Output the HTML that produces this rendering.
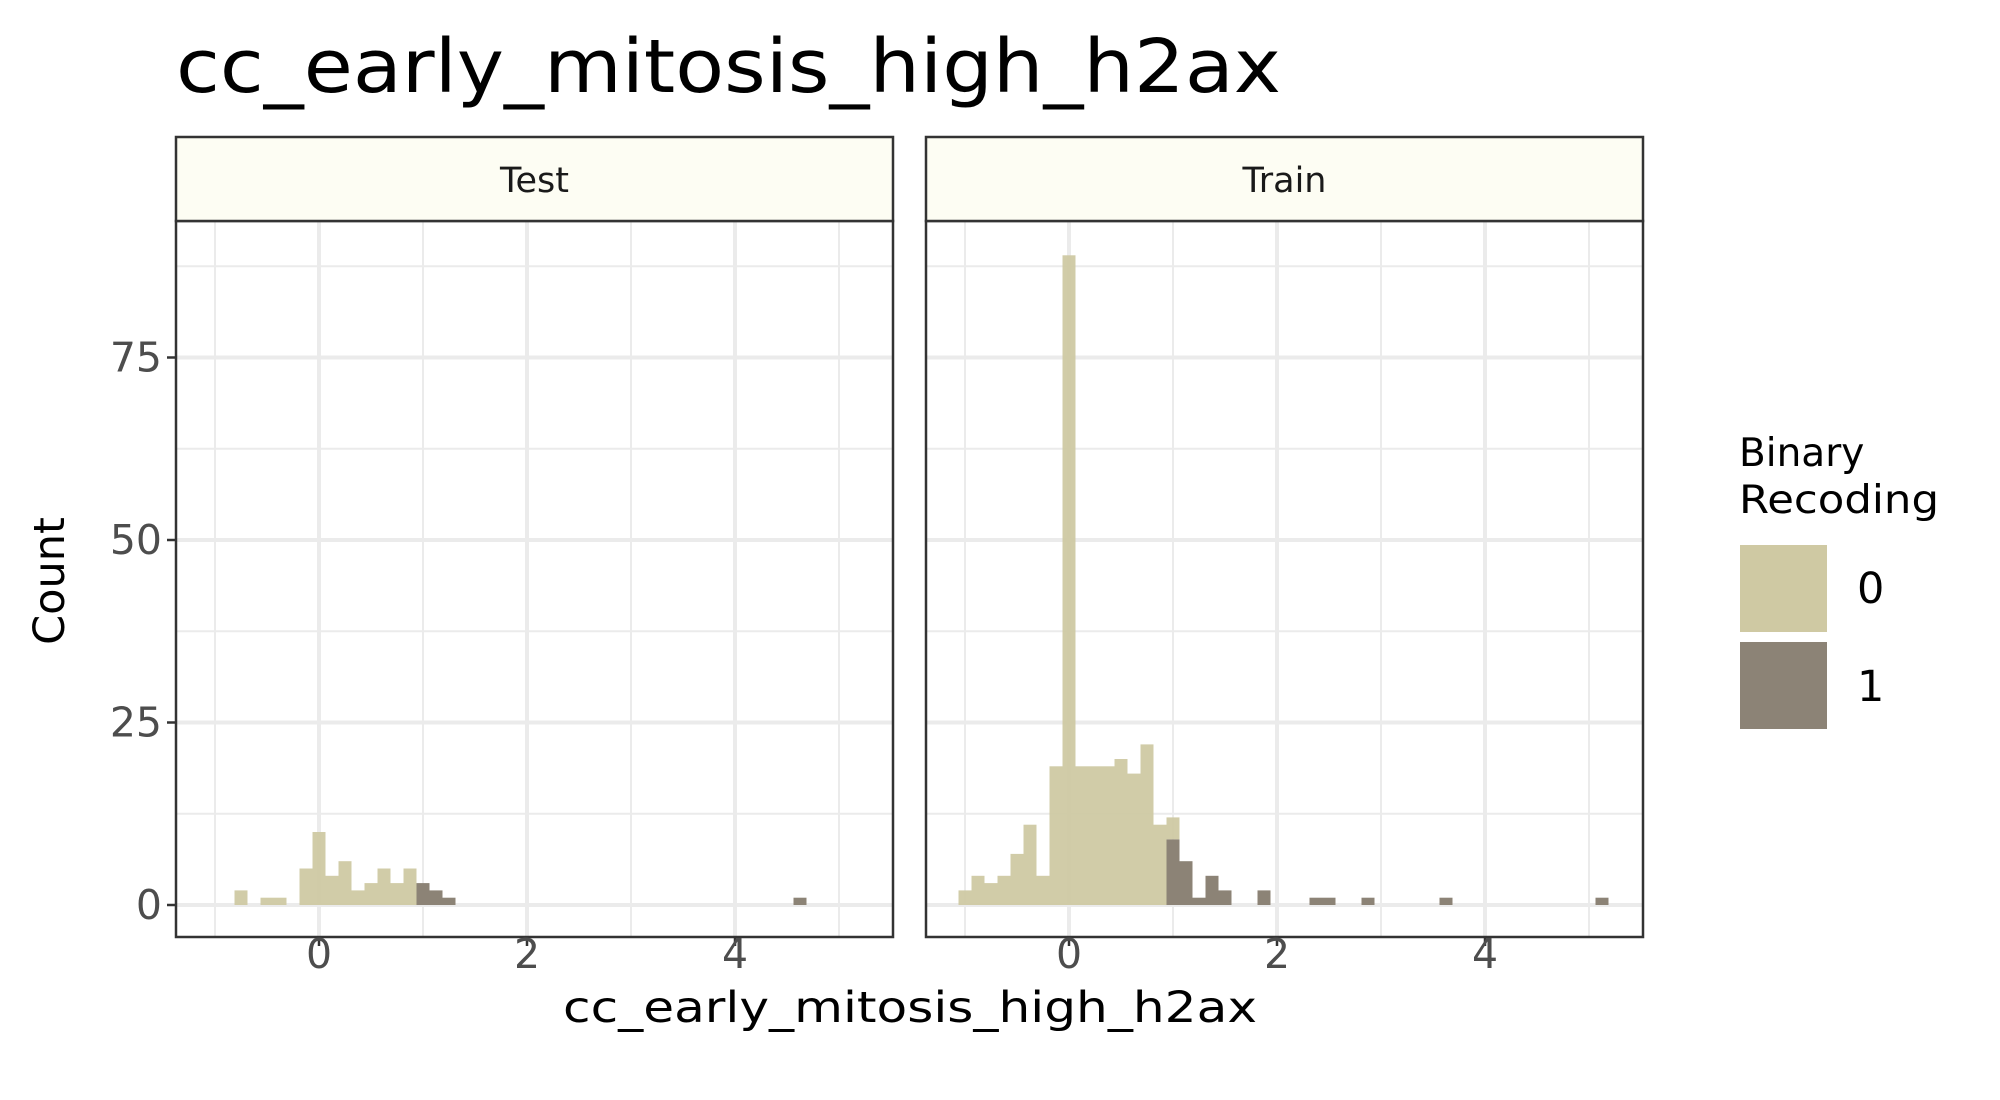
<!DOCTYPE html>
<html><head><meta charset="utf-8"><style>
html,body{margin:0;padding:0;background:#fff;}
svg{display:block;font-family:"DejaVu Sans","Liberation Sans",sans-serif;}
</style></head><body>
<svg id="chart" width="2000" height="1100" viewBox="0 0 2000 1100">
<text x="176" y="92" font-size="74" fill="#000" textLength="1105" lengthAdjust="spacingAndGlyphs">cc_early_mitosis_high_h2ax</text>
<g id="panels"></g>
<text x="910" y="1022" font-size="43" fill="#000" text-anchor="middle" textLength="694" lengthAdjust="spacingAndGlyphs">cc_early_mitosis_high_h2ax</text>
<text x="0" y="0" font-size="43" fill="#000" text-anchor="middle" transform="translate(64,581) rotate(-90)">Count</text>
<g>
<text x="1739" y="466" font-size="39" fill="#000">Binary</text>
<text x="1739" y="513" font-size="39" fill="#000" textLength="200" lengthAdjust="spacingAndGlyphs">Recoding</text>
<rect x="1740" y="545" width="87" height="87" fill="#cfc9a3"/>
<rect x="1740" y="642" width="87" height="87" fill="#8c8376"/>
<text x="1857" y="603" font-size="43" fill="#000">0</text>
<text x="1857" y="701" font-size="43" fill="#000">1</text>
</g>
</svg>
<script>
// bin index k -> bin centre k*binWidth
const binWidth = 0.125;
const facets = ["Test", "Train"];
const testBins0 = [-6,-4,-3,-1,0,1,2,3,4,5,6,7];
const testCounts0 = [2,1,1,5,10,4,6,2,3,5,3,5];
const testBins1 = [8,9,10,37];
const testCounts1 = [3,2,1,1];
const trainBins0 = [-8,-7,-6,-5,-4,-3,-2,-1,0,1,2,3,4,5,6,7,8];
const trainCounts0 = [2,4,3,4,7,11,4,19,89,19,19,19,20,18,22,11,3];
const trainBins1 = [8,9,10,11,12,15,19,20,23,29,41];
const trainCounts1 = [9,6,1,4,2,2,1,1,1,1,1];
const yTicks = [0,25,50,75];
const yMinor = [12.5,37.5,62.5,87.5];
const xTicks = [0,2,4];
const xMinor = [-1,1,3,5];

const NS = "http://www.w3.org/2000/svg";
const panelsG = document.getElementById("panels");
const panelX = [176, 926];
const panelW = 717;
const pTop = 221, pBottom = 937, stripTop = 137;
const unit = 104, xMin = -1.375;
const yZero = 905, perCount = 7.3;
function mk(tag, attrs, parent){const e=document.createElementNS(NS,tag);for(const k in attrs)e.setAttribute(k,attrs[k]);parent.appendChild(e);return e;}
function yScale(c){return yZero - c*perCount;}

const data = [
  {b0:testBins0,c0:testCounts0,b1:testBins1,c1:testCounts1},
  {b0:trainBins0,c0:trainCounts0,b1:trainBins1,c1:trainCounts1}
];

facets.forEach((name, i) => {
  const px = panelX[i];
  const xScale = v => px + (v - xMin)*unit;
  const g = mk("g", {}, panelsG);
  
  
  mk("rect",{x:px,y:pTop,width:panelW,height:pBottom-pTop,fill:"#fff"},g);
  yMinor.forEach(v=>mk("line",{x1:px,x2:px+panelW,y1:yScale(v),y2:yScale(v),stroke:"#ebebeb","stroke-width":2},g));
  xMinor.forEach(v=>mk("line",{x1:xScale(v),x2:xScale(v),y1:pTop,y2:pBottom,stroke:"#ebebeb","stroke-width":2},g));
  yTicks.forEach(v=>mk("line",{x1:px,x2:px+panelW,y1:yScale(v),y2:yScale(v),stroke:"#ebebeb","stroke-width":4},g));
  xTicks.forEach(v=>mk("line",{x1:xScale(v),x2:xScale(v),y1:pTop,y2:pBottom,stroke:"#ebebeb","stroke-width":4},g));
  const d = data[i];
  const base = {};
  d.b1.forEach((k,j)=>{
    const c=d.c1[j]; base[k]=c;
    const r=mk("rect",{x:xScale((k-0.5)*binWidth),y:yScale(c),width:binWidth*unit,height:c*perCount,fill:"#8c8376"},g);
    
    
  });
  d.b0.forEach((k,j)=>{
    const c=d.c0[j]; const b=base[k]||0;
    const r=mk("rect",{x:xScale((k-0.5)*binWidth),y:yScale(b+c),width:binWidth*unit,height:c*perCount,fill:"#cfc9a3","fill-opacity":0.95},g);
    
    
  });
  mk("rect",{x:px,y:pTop,width:panelW,height:pBottom-pTop,fill:"none",stroke:"#333","stroke-width":2.5},g);
  const s = mk("rect",{x:px,y:stripTop,width:panelW,height:pTop-stripTop,fill:"#fdfdf3",stroke:"#333","stroke-width":2.5},g);
  
  
  const st = mk("text",{x:px+panelW/2,y:192,"font-size":35,"text-anchor":"middle",fill:"#1a1a1a"},g);
  st.textContent = name;
  
  
  xTicks.forEach(v=>{
    mk("line",{x1:xScale(v),x2:xScale(v),y1:pBottom,y2:pBottom+9,stroke:"#333","stroke-width":2.5},g);
    const t=mk("text",{x:xScale(v),y:968,"font-size":41,"text-anchor":"middle",fill:"#4d4d4d"},g);
    t.textContent=v;
    
    
  });
  if(i===0){
    yTicks.forEach(v=>{
      mk("line",{x1:px-9,x2:px,y1:yScale(v),y2:yScale(v),stroke:"#333","stroke-width":2.5},g);
      const t=mk("text",{x:px-14,y:yScale(v)+14,"font-size":41,"text-anchor":"end",fill:"#4d4d4d"},g);
      t.textContent=v;
      
      
    });
  }
});
</script>
</body></html>
